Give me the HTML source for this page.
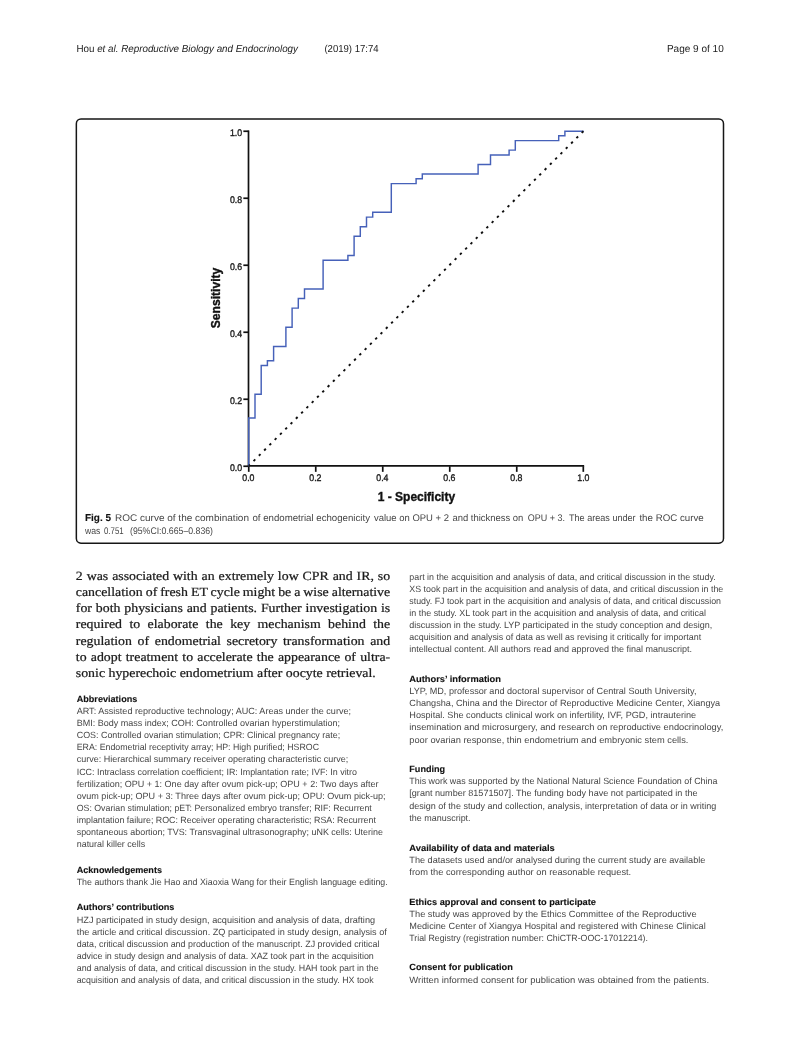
<!DOCTYPE html>
<html lang="en">
<head>
<meta charset="utf-8">
<title>Page 9 of 10</title>
<style>
html,body{margin:0;padding:0;background:#fff;}
body{width:800px;height:1063px;position:relative;overflow:hidden;}
.l{position:absolute;white-space:pre;line-height:0;transform-origin:0 0;text-rendering:geometricPrecision;}
.hdr{font-family:'Liberation Sans', sans-serif;font-size:10.2px;font-weight:400;color:#1c1c1c;}
.cap{font-family:'Liberation Sans', sans-serif;font-size:9.6px;font-weight:400;color:#464646;}
.sm{font-family:'Liberation Sans', sans-serif;font-size:9.0px;font-weight:400;color:#464646;}
.h{font-family:'Liberation Sans', sans-serif;font-size:9.0px;font-weight:700;color:#111111;}
.ser{font-family:'Liberation Serif', serif;font-size:12.6px;font-weight:400;color:#1a1a1a;}
b{font-weight:700;color:#111;font-size:10.1px;}.ser{-webkit-text-stroke:0.22px #1a1a1a;}.h,b{-webkit-text-stroke:0.12px #111;}
#pg{position:absolute;left:0;top:0;width:800px;height:1063px;will-change:transform;}
</style>
</head>
<body>
<div id="pg">
<div class="l hdr" style="left:76px;top:50px;transform:translateX(0.40px) scaleX(0.9637);">Hou <i>et al. Reproductive Biology and Endocrinology</i></div>
<div class="l hdr" style="left:324px;top:50px;transform:translateX(0.40px) scaleX(0.9380);">(2019) 17:74</div>
<div class="l hdr" style="left:666px;top:50px;transform:translateX(0.90px) scaleX(0.9830);">Page 9 of 10</div>
<div class="l cap" style="left:85px;top:519px;transform:translateX(0.00px) scaleX(0.9864);"><b>Fig. 5</b></div>
<div class="l cap" style="left:115px;top:519px;transform:translateX(0.00px) scaleX(1.0427);">ROC curve of the combination</div>
<div class="l cap" style="left:252px;top:519px;transform:translateX(0.40px) scaleX(1.0069);">of endometrial echogenicity</div>
<div class="l cap" style="left:374px;top:519px;transform:translateX(0.00px) scaleX(0.9868);">value on OPU + 2</div>
<div class="l cap" style="left:452px;top:519px;transform:translateX(0.40px) scaleX(0.9847);">and thickness on</div>
<div class="l cap" style="left:527px;top:519px;transform:translateX(0.80px) scaleX(0.9362);">OPU + 3.</div>
<div class="l cap" style="left:569px;top:519px;transform:translateX(0.00px) scaleX(0.9459);">The areas under</div>
<div class="l cap" style="left:639px;top:519px;transform:translateX(0.40px) scaleX(1.0141);">the ROC curve</div>
<div class="l cap" style="left:85px;top:532px;transform:translateX(0.00px) scaleX(0.9026);">was</div>
<div class="l cap" style="left:104px;top:532px;transform:translateX(0.00px) scaleX(0.8161);">0.751</div>
<div class="l cap" style="left:130px;top:532px;transform:translateX(0.00px) scaleX(0.9101);">(95%CI:0.665–0.836)</div>
<div class="l ser" style="left:75px;top:576px;transform:translateX(0.80px) scaleX(1.1);word-spacing:0.424px;">2 was associated with an extremely low CPR and IR, so</div>
<div class="l ser" style="left:75px;top:592px;transform:translateX(0.80px) scaleX(1.1);word-spacing:-0.426px;">cancellation of fresh ET cycle might be a wise alternative</div>
<div class="l ser" style="left:75px;top:608px;transform:translateX(0.80px) scaleX(1.1);word-spacing:0.356px;">for both physicians and patients. Further investigation is</div>
<div class="l ser" style="left:75px;top:624px;transform:translateX(0.80px) scaleX(1.1);word-spacing:3.612px;">required to elaborate the key mechanism behind the</div>
<div class="l ser" style="left:75px;top:641px;transform:translateX(0.80px) scaleX(1.1);word-spacing:1.979px;">regulation of endometrial secretory transformation and</div>
<div class="l ser" style="left:75px;top:657px;transform:translateX(0.80px) scaleX(1.1);word-spacing:0.676px;">to adopt treatment to accelerate the appearance of ultra-</div>
<div class="l ser" style="left:75px;top:673px;transform:translateX(0.80px) scaleX(1.1);word-spacing:0px;">sonic hyperechoic endometrium after oocyte retrieval.</div>
<div class="l h" style="left:76px;top:699px;transform:translateX(0.70px) scaleX(1.0097);">Abbreviations</div>
<div class="l sm" style="left:76px;top:711px;transform:translateX(0.70px) scaleX(1.0067);">ART: Assisted reproductive technology; AUC: Areas under the curve;</div>
<div class="l sm" style="left:76px;top:723px;transform:translateX(0.70px) scaleX(1.0011);">BMI: Body mass index; COH: Controlled ovarian hyperstimulation;</div>
<div class="l sm" style="left:76px;top:735px;transform:translateX(0.70px) scaleX(0.9898);">COS: Controlled ovarian stimulation; CPR: Clinical pregnancy rate;</div>
<div class="l sm" style="left:76px;top:747px;transform:translateX(0.70px) scaleX(0.9766);">ERA: Endometrial receptivity array; HP: High purified; HSROC</div>
<div class="l sm" style="left:76px;top:759px;transform:translateX(0.70px) scaleX(1.0015);">curve: Hierarchical summary receiver operating characteristic curve;</div>
<div class="l sm" style="left:76px;top:772px;transform:translateX(0.70px) scaleX(0.9889);">ICC: Intraclass correlation coefficient; IR: Implantation rate; IVF: In vitro</div>
<div class="l sm" style="left:76px;top:784px;transform:translateX(0.70px) scaleX(1.0014);">fertilization; OPU + 1: One day after ovum pick-up; OPU + 2: Two days after</div>
<div class="l sm" style="left:76px;top:796px;transform:translateX(0.70px) scaleX(1.0055);">ovum pick-up; OPU + 3: Three days after ovum pick-up; OPU: Ovum pick-up;</div>
<div class="l sm" style="left:76px;top:808px;transform:translateX(0.70px) scaleX(0.9767);">OS: Ovarian stimulation; pET: Personalized embryo transfer; RIF: Recurrent</div>
<div class="l sm" style="left:76px;top:820px;transform:translateX(0.70px) scaleX(0.9822);">implantation failure; ROC: Receiver operating characteristic; RSA: Recurrent</div>
<div class="l sm" style="left:76px;top:832px;transform:translateX(0.70px) scaleX(0.9909);">spontaneous abortion; TVS: Transvaginal ultrasonography; uNK cells: Uterine</div>
<div class="l sm" style="left:76px;top:844px;transform:translateX(0.70px) scaleX(0.9923);">natural killer cells</div>
<div class="l h" style="left:76px;top:870px;transform:translateX(0.70px) scaleX(1.0091);">Acknowledgements</div>
<div class="l sm" style="left:76px;top:882px;transform:translateX(0.70px) scaleX(0.9815);">The authors thank Jie Hao and Xiaoxia Wang for their English language editing.</div>
<div class="l h" style="left:76px;top:907px;transform:translateX(0.70px) scaleX(1.0124);">Authors’ contributions</div>
<div class="l sm" style="left:76px;top:920px;transform:translateX(0.70px) scaleX(1.0178);">HZJ participated in study design, acquisition and analysis of data, drafting</div>
<div class="l sm" style="left:76px;top:932px;transform:translateX(0.70px) scaleX(1.0145);">the article and critical discussion. ZQ participated in study design, analysis of</div>
<div class="l sm" style="left:76px;top:944px;transform:translateX(0.70px) scaleX(0.9887);">data, critical discussion and production of the manuscript. ZJ provided critical</div>
<div class="l sm" style="left:76px;top:956px;transform:translateX(0.70px) scaleX(0.9881);">advice in study design and analysis of data. XAZ took part in the acquisition</div>
<div class="l sm" style="left:76px;top:968px;transform:translateX(0.70px) scaleX(0.9850);">and analysis of data, and critical discussion in the study. HAH took part in the</div>
<div class="l sm" style="left:76px;top:980px;transform:translateX(0.70px) scaleX(0.9815);">acquisition and analysis of data, and critical discussion in the study. HX took</div>
<div class="l sm" style="left:409px;top:577px;transform:translateX(0.30px) scaleX(0.9867);">part in the acquisition and analysis of data, and critical discussion in the study.</div>
<div class="l sm" style="left:409px;top:589px;transform:translateX(0.30px) scaleX(0.9853);">XS took part in the acquisition and analysis of data, and critical discussion in the</div>
<div class="l sm" style="left:409px;top:601px;transform:translateX(0.30px) scaleX(0.9801);">study. FJ took part in the acquisition and analysis of data, and critical discussion</div>
<div class="l sm" style="left:409px;top:613px;transform:translateX(0.30px) scaleX(0.9933);">in the study. XL took part in the acquisition and analysis of data, and critical</div>
<div class="l sm" style="left:409px;top:625px;transform:translateX(0.30px) scaleX(0.9977);">discussion in the study. LYP participated in the study conception and design,</div>
<div class="l sm" style="left:409px;top:637px;transform:translateX(0.30px) scaleX(0.9887);">acquisition and analysis of data as well as revising it critically for important</div>
<div class="l sm" style="left:409px;top:649px;transform:translateX(0.30px) scaleX(1.0000);">intellectual content. All authors read and approved the final manuscript.</div>
<div class="l h" style="left:409px;top:679px;transform:translateX(0.30px) scaleX(1.0362);">Authors’ information</div>
<div class="l sm" style="left:409px;top:691px;transform:translateX(0.30px) scaleX(1.0108);">LYP, MD, professor and doctoral supervisor of Central South University,</div>
<div class="l sm" style="left:409px;top:703px;transform:translateX(0.30px) scaleX(1.0134);">Changsha, China and the Director of Reproductive Medicine Center, Xiangya</div>
<div class="l sm" style="left:409px;top:715px;transform:translateX(0.30px) scaleX(1.0139);">Hospital. She conducts clinical work on infertility, IVF, PGD, intrauterine</div>
<div class="l sm" style="left:409px;top:727px;transform:translateX(0.30px) scaleX(1.0317);">insemination and microsurgery, and research on reproductive endocrinology,</div>
<div class="l sm" style="left:409px;top:740px;transform:translateX(0.30px) scaleX(1.0313);">poor ovarian response, thin endometrium and embryonic stem cells.</div>
<div class="l h" style="left:409px;top:769px;transform:translateX(0.30px) scaleX(1.0085);">Funding</div>
<div class="l sm" style="left:409px;top:781px;transform:translateX(0.30px) scaleX(0.9885);">This work was supported by the National Natural Science Foundation of China</div>
<div class="l sm" style="left:409px;top:793px;transform:translateX(0.30px) scaleX(1.0075);">[grant number 81571507]. The funding body have not participated in the</div>
<div class="l sm" style="left:409px;top:806px;transform:translateX(0.30px) scaleX(1.0010);">design of the study and collection, analysis, interpretation of data or in writing</div>
<div class="l sm" style="left:409px;top:818px;transform:translateX(0.30px) scaleX(0.9962);">the manuscript.</div>
<div class="l h" style="left:409px;top:848px;transform:translateX(0.30px) scaleX(1.0414);">Availability of data and materials</div>
<div class="l sm" style="left:409px;top:860px;transform:translateX(0.30px) scaleX(1.0169);">The datasets used and/or analysed during the current study are available</div>
<div class="l sm" style="left:409px;top:872px;transform:translateX(0.30px) scaleX(1.0314);">from the corresponding author on reasonable request.</div>
<div class="l h" style="left:409px;top:902px;transform:translateX(0.30px) scaleX(1.0284);">Ethics approval and consent to participate</div>
<div class="l sm" style="left:409px;top:914px;transform:translateX(0.30px) scaleX(1.0311);">The study was approved by the Ethics Committee of the Reproductive</div>
<div class="l sm" style="left:409px;top:926px;transform:translateX(0.30px) scaleX(1.0180);">Medicine Center of Xiangya Hospital and registered with Chinese Clinical</div>
<div class="l sm" style="left:409px;top:938px;transform:translateX(0.30px) scaleX(0.9749);">Trial Registry (registration number: ChiCTR-OOC-17012214).</div>
<div class="l h" style="left:409px;top:967px;transform:translateX(0.30px) scaleX(1.0248);">Consent for publication</div>
<div class="l sm" style="left:409px;top:980px;transform:translateX(0.30px) scaleX(1.0483);">Written informed consent for publication was obtained from the patients.</div>
<svg width="800" height="1063" viewBox="0 0 800 1063" style="position:absolute;left:0;top:0">
<rect x="76.35" y="119.05" width="647.15" height="424.1" rx="4.6" ry="4.6" fill="none" stroke="#161616" stroke-width="1.5"/>
<line x1="248.5" y1="130.4" x2="248.5" y2="467.1" stroke="#111" stroke-width="1.7"/>
<line x1="247.9" y1="465.95" x2="584.15" y2="465.95" stroke="#111" stroke-width="1.7"/>
<line x1="248.75" y1="466.25" x2="248.75" y2="471.85" stroke="#111" stroke-width="1.7"/>
<line x1="243.35" y1="466.25" x2="248.75" y2="466.25" stroke="#111" stroke-width="1.7"/>
<text transform="translate(242.25,481.2) scale(0.9143,1)" font-family="'Liberation Sans', sans-serif" font-size="9.6" fill="#1a1a1a" stroke="#1a1a1a" stroke-width="0.35" style="text-rendering:geometricPrecision">0.0</text>
<text transform="translate(229.90,470.60) scale(0.9143,1)" font-family="'Liberation Sans', sans-serif" font-size="9.6" fill="#1a1a1a" stroke="#1a1a1a" stroke-width="0.35" style="text-rendering:geometricPrecision">0.0</text>
<line x1="315.75" y1="466.25" x2="315.75" y2="471.85" stroke="#111" stroke-width="1.7"/>
<line x1="243.35" y1="399.25" x2="248.75" y2="399.25" stroke="#111" stroke-width="1.7"/>
<text transform="translate(309.25,481.2) scale(0.9143,1)" font-family="'Liberation Sans', sans-serif" font-size="9.6" fill="#1a1a1a" stroke="#1a1a1a" stroke-width="0.35" style="text-rendering:geometricPrecision">0.2</text>
<text transform="translate(229.90,403.60) scale(0.9143,1)" font-family="'Liberation Sans', sans-serif" font-size="9.6" fill="#1a1a1a" stroke="#1a1a1a" stroke-width="0.35" style="text-rendering:geometricPrecision">0.2</text>
<line x1="382.75" y1="466.25" x2="382.75" y2="471.85" stroke="#111" stroke-width="1.7"/>
<line x1="243.35" y1="332.25" x2="248.75" y2="332.25" stroke="#111" stroke-width="1.7"/>
<text transform="translate(376.25,481.2) scale(0.9143,1)" font-family="'Liberation Sans', sans-serif" font-size="9.6" fill="#1a1a1a" stroke="#1a1a1a" stroke-width="0.35" style="text-rendering:geometricPrecision">0.4</text>
<text transform="translate(229.90,336.60) scale(0.9143,1)" font-family="'Liberation Sans', sans-serif" font-size="9.6" fill="#1a1a1a" stroke="#1a1a1a" stroke-width="0.35" style="text-rendering:geometricPrecision">0.4</text>
<line x1="449.75" y1="466.25" x2="449.75" y2="471.85" stroke="#111" stroke-width="1.7"/>
<line x1="243.35" y1="265.25" x2="248.75" y2="265.25" stroke="#111" stroke-width="1.7"/>
<text transform="translate(443.25,481.2) scale(0.9143,1)" font-family="'Liberation Sans', sans-serif" font-size="9.6" fill="#1a1a1a" stroke="#1a1a1a" stroke-width="0.35" style="text-rendering:geometricPrecision">0.6</text>
<text transform="translate(229.90,269.60) scale(0.9143,1)" font-family="'Liberation Sans', sans-serif" font-size="9.6" fill="#1a1a1a" stroke="#1a1a1a" stroke-width="0.35" style="text-rendering:geometricPrecision">0.6</text>
<line x1="516.75" y1="466.25" x2="516.75" y2="471.85" stroke="#111" stroke-width="1.7"/>
<line x1="243.35" y1="198.25" x2="248.75" y2="198.25" stroke="#111" stroke-width="1.7"/>
<text transform="translate(510.25,481.2) scale(0.9143,1)" font-family="'Liberation Sans', sans-serif" font-size="9.6" fill="#1a1a1a" stroke="#1a1a1a" stroke-width="0.35" style="text-rendering:geometricPrecision">0.8</text>
<text transform="translate(229.90,202.60) scale(0.9143,1)" font-family="'Liberation Sans', sans-serif" font-size="9.6" fill="#1a1a1a" stroke="#1a1a1a" stroke-width="0.35" style="text-rendering:geometricPrecision">0.8</text>
<line x1="583.30" y1="466.25" x2="583.30" y2="471.85" stroke="#111" stroke-width="1.7"/>
<line x1="243.35" y1="131.25" x2="248.75" y2="131.25" stroke="#111" stroke-width="1.7"/>
<text transform="translate(577.25,481.2) scale(0.9143,1)" font-family="'Liberation Sans', sans-serif" font-size="9.6" fill="#1a1a1a" stroke="#1a1a1a" stroke-width="0.35" style="text-rendering:geometricPrecision">1.0</text>
<text transform="translate(229.90,135.60) scale(0.9143,1)" font-family="'Liberation Sans', sans-serif" font-size="9.6" fill="#1a1a1a" stroke="#1a1a1a" stroke-width="0.35" style="text-rendering:geometricPrecision">1.0</text>
<polyline points="248.75,466.25 248.75,418.00 255.00,418.00 255.00,394.20 261.20,394.20 261.20,365.50 267.40,365.50 267.40,360.70 273.60,360.70 273.60,346.40 285.90,346.40 285.90,327.20 292.10,327.20 292.10,308.10 298.30,308.10 298.30,298.50 304.50,298.50 304.50,288.90 323.10,288.90 323.10,260.20 347.90,260.20 347.90,255.40 354.10,255.40 354.10,236.30 360.30,236.30 360.30,226.70 366.50,226.70 366.50,217.10 372.70,217.10 372.70,212.30 391.30,212.30 391.30,183.60 416.10,183.60 416.10,178.80 422.30,178.80 422.30,174.00 478.10,174.00 478.10,164.50 490.50,164.50 490.50,154.90 509.10,154.90 509.10,150.10 515.30,150.10 515.30,140.60 558.70,140.60 558.70,135.80 564.90,135.80 564.90,131.25 583.75,131.25" fill="none" stroke="#4661b9" stroke-width="1.45" stroke-linejoin="miter"/>
<line x1="248.75" y1="465.85" x2="583.75" y2="130.85" stroke="#111" stroke-width="1.9" stroke-dasharray="2.4 5.085" stroke-dashoffset="0.7"/>
<text x="416.4" y="501.2" text-anchor="middle" font-family="'Liberation Sans', sans-serif" font-size="12" font-weight="700" fill="#111" stroke="#111" stroke-width="0.35">1 - Specificity</text>
<text transform="translate(220.3,298) rotate(-90)" text-anchor="middle" font-family="'Liberation Sans', sans-serif" font-size="12.1" font-weight="700" fill="#111" stroke="#111" stroke-width="0.35">Sensitivity</text>
</svg>
</div>
</body>
</html>
